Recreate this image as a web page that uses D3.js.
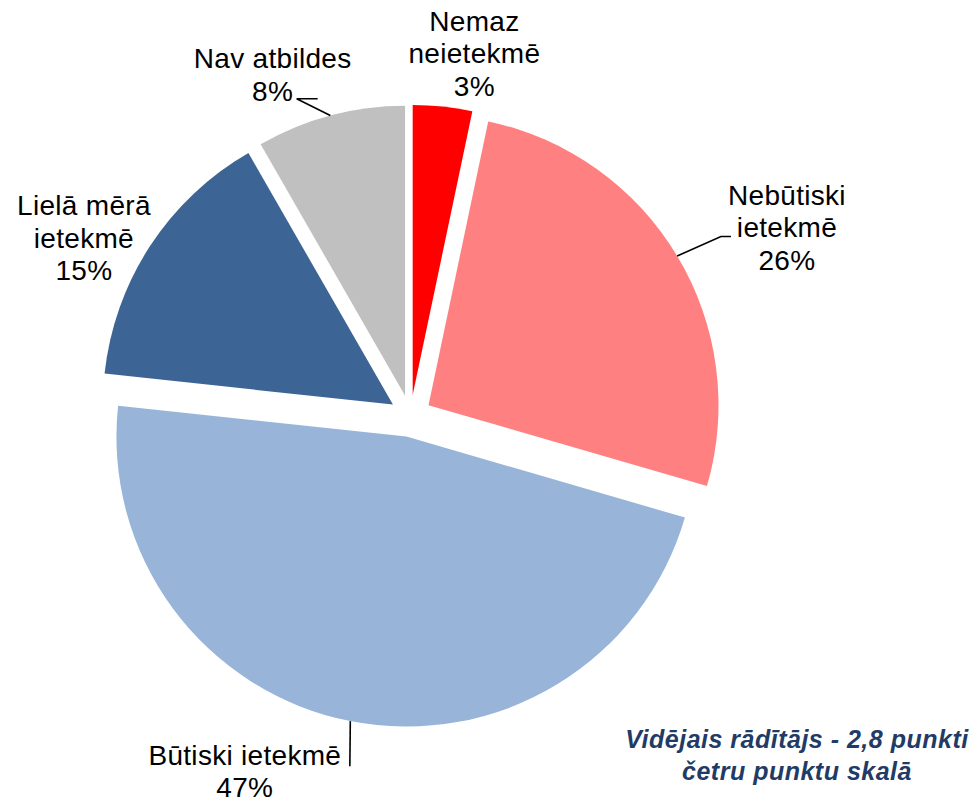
<!DOCTYPE html>
<html>
<head>
<meta charset="utf-8">
<script src="https://cdn.jsdelivr.net/npm/d3@7"></script>
<style>
  html, body { margin: 0; padding: 0; background: #fff; }
  svg { display: block; }
  text { font-family: "Liberation Sans", Arial, sans-serif; }
</style>
</head>
<body>
<svg id="chart" width="978" height="802"></svg>
<script>
// ---- data ----
const categories = ["Nemaz neietekmē", "Nebūtiski ietekmē", "Būtiski ietekmē", "Lielā mērā ietekmē", "Nav atbildes"];
const labelLines = [["Nemaz", "neietekmē"], ["Nebūtiski", "ietekmē"], ["Būtiski ietekmē"], ["Lielā mērā", "ietekmē"], ["Nav atbildes"]];
const values = [3.3, 26.2, 47.2, 15.0, 8.3];
const percentLabels = ["3%", "26%", "47%", "15%", "8%"];
const noteLines = ["Vidējais rādītājs - 2,8 punkti", "četru punktu skalā"];

// ---- style / layout ----
const colors = ["#FF0000", "#FF8080", "#98B5D9", "#3C6494", "#C0C0C0"];
const W = 978, H = 802;
const cx = 410.5, cy = 416, R = 290, explode = 21;
const fontSize = 28, lineH = 32.5, letterSpacing = 0.3;
// label block anchors (polar, relative to pie centre): angle in degrees clockwise from top, distance in px
const labelPolar = [[10.0, 368], [63.4, 421], [205.0, 392], [298.6, 372], [338.0, 368]];
// leader lines: label-side points as offsets from label anchor, null = none
const leaders = [null, [[-66, 9], [-56, 9]], [[105, -5]], null, [[24, 24], [45, 24]]];

const svg = d3.select("#chart");
const g = svg.append("g").attr("transform", `translate(${cx},${cy})`);

const pie = d3.pie().sort(null).value(d => d).startAngle(0).endAngle(2 * Math.PI);
const arcs = pie(values);
const arcGen = d3.arc().innerRadius(0).outerRadius(R);

const off = a => {
  const m = (a.startAngle + a.endAngle) / 2;
  return [explode * Math.sin(m), -explode * Math.cos(m)];
};

g.selectAll("path.slice").data(arcs).enter().append("path")
  .attr("class", "slice")
  .attr("d", arcGen)
  .attr("fill", (d, i) => colors[i])
  .attr("transform", d => { const o = off(d); return `translate(${o[0]},${o[1]})`; });

// labels
arcs.forEach((d, i) => {
  const [ang, dist] = labelPolar[i];
  const a = ang * Math.PI / 180;
  const lx = dist * Math.sin(a), ly = -dist * Math.cos(a);
  const lines = labelLines[i].concat([percentLabels[i]]);
  const n = lines.length;
  const t = g.append("text")
    .attr("text-anchor", "middle")
    .attr("font-size", fontSize)
    .attr("letter-spacing", letterSpacing)
    .attr("fill", "#000");
  lines.forEach((s, k) => {
    t.append("tspan").attr("x", lx).attr("y", ly + (k - (n - 1) / 2) * lineH + fontSize * 0.35).text(s);
  });
  if (leaders[i]) {
    const m = (d.startAngle + d.endAngle) / 2;
    const o = off(d);
    const start = [o[0] + R * Math.sin(m), o[1] - R * Math.cos(m)];
    const pts = [start].concat(leaders[i].map(p => [lx + p[0], ly + p[1]]));
    g.append("path")
      .attr("d", d3.line()(pts))
      .attr("fill", "none")
      .attr("stroke", "#000")
      .attr("stroke-width", 1.6);
  }
});

// note
const note = svg.append("text")
  .attr("text-anchor", "middle")
  .attr("font-size", 25)
  .attr("font-weight", "bold")
  .attr("font-style", "italic")
  .attr("letter-spacing", 0.5)
  .attr("fill", "#1F3B66");
noteLines.forEach((s, k) => {
  note.append("tspan").attr("x", 797).attr("y", 748 + k * 32).text(s);
});
</script>
</body>
</html>
